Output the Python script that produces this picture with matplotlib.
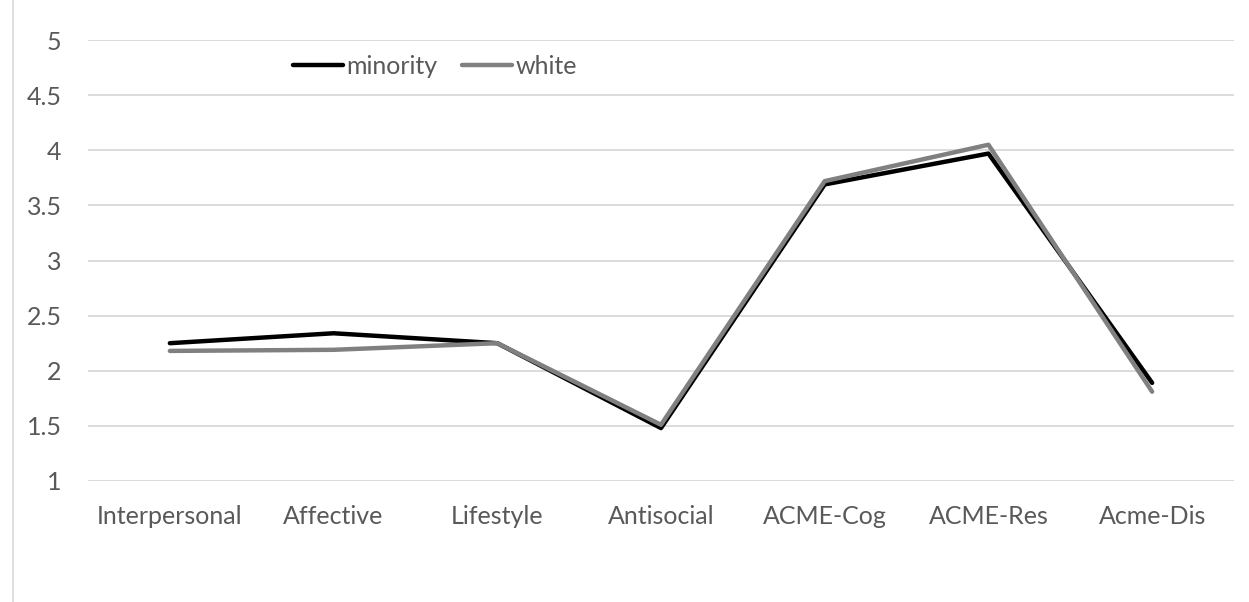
import matplotlib
matplotlib.use("Agg")
import matplotlib.pyplot as plt
from matplotlib.lines import Line2D

categories = ["Interpersonal", "Affective", "Lifestyle", "Antisocial",
              "ACME-Cog", "ACME-Res", "Acme-Dis"]
minority = [2.25, 2.34, 2.25, 1.48, 3.69, 3.97, 1.89]
white = [2.18, 2.19, 2.25, 1.51, 3.72, 4.05, 1.81]
y_ticks = [1, 1.5, 2, 2.5, 3, 3.5, 4, 4.5, 5]
y_tick_labels = ["1", "1.5", "2", "2.5", "3", "3.5", "4", "4.5", "5"]

plt.rcParams["font.family"] = ["Lato", "DejaVu Sans"]
text_color = "#595959"
grid_color = "#d9d9d9"

W, H = 1249, 602
fig = plt.figure(figsize=(W / 100, H / 100), dpi=100)
ax = fig.add_axes([88 / W, 1 - 481 / H, (1234 - 88) / W, (481 - 40) / H])

x = list(range(len(categories)))
ax.plot(x, minority, color="#000000", lw=3.2, solid_capstyle="round",
        solid_joinstyle="round", label="minority", zorder=3)
ax.plot(x, white, color="#808080", lw=3.2, solid_capstyle="round",
        solid_joinstyle="round", label="white", zorder=4)

ax.set_xlim(-0.5, len(categories) - 0.5)
ax.set_ylim(1, 5)
ax.set_yticks(y_ticks)
ax.set_yticklabels(y_tick_labels)
ax.set_xticks(x)
ax.set_xticklabels(categories)
ax.yaxis.grid(True, color=grid_color, lw=1.3)
ax.set_axisbelow(True)
for s in ax.spines.values():
    s.set_visible(False)
ax.tick_params(axis="both", length=0, colors=text_color, labelsize=18)
ax.tick_params(axis="y", pad=19)
ax.tick_params(axis="x", pad=17)

leg = ax.legend(loc="center", bbox_to_anchor=(435 / W, 1 - 66 / H),
                bbox_transform=fig.transFigure, ncol=2, frameon=False,
                fontsize=18, handlelength=2.0, handletextpad=0.12,
                columnspacing=1.0, labelcolor=text_color)

# chart frame edge on the left
fig.add_artist(Line2D([12.5 / W, 12.5 / W], [0, 1], transform=fig.transFigure,
                      color=grid_color, lw=1.2))

fig.savefig("out.png", dpi=100, facecolor="white")
